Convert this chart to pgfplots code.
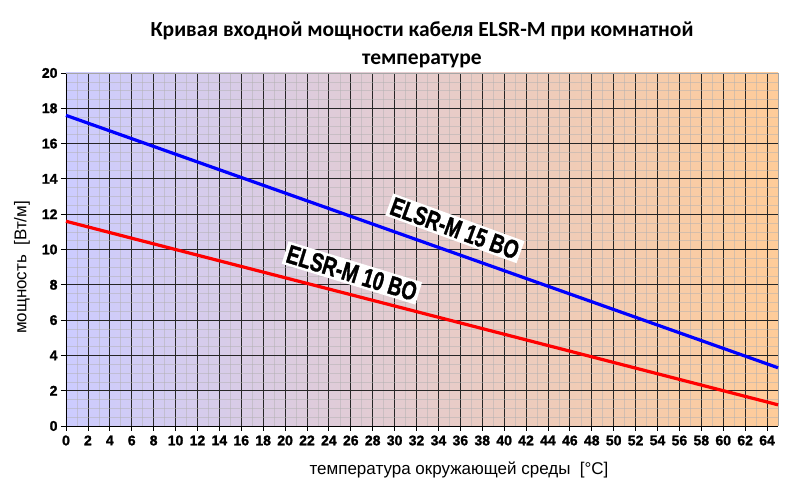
\documentclass[border=0pt]{standalone}
\usepackage{fontspec}
\setmainfont{Liberation Sans}
\newfontfamily\titlefont{Carlito}
\newfontfamily\heavyfont[BoldFeatures={FakeBold=1.5}]{Liberation Sans}
\usepackage{graphicx}
\usepackage{pgfplots}
\pgfplotsset{compat=1.18}
\definecolor{bgL}{RGB}{204,204,255}
\definecolor{bgR}{RGB}{255,204,153}
\definecolor{lblue}{RGB}{0,0,255}
\definecolor{lred}{RGB}{255,0,0}
\begin{document}
\begin{tikzpicture}
\useasboundingbox (-66pt,-71pt) rectangle (734pt,426pt);
\begin{axis}[
  at={(0,0)}, anchor=south west,
  scale only axis, width=712pt, height=353pt,
  xmin=0, xmax=65, ymin=0, ymax=20,
  xtick={0,2,...,64}, ytick={0,2,...,20},
  minor x tick num=1, minor y tick num=3,
  grid=both,
  major grid style={black!85, line width=0.8pt},
  minor grid style={gray!60, opacity=0.5, line width=0.6pt},
  axis background/.style={left color=bgL, right color=bgR},
  axis x line*=bottom, axis y line*=left,
  axis line style={black, line width=0.8pt},
  major tick style={black, line width=0.8pt},
  minor tick length=0pt,
  major tick length=5pt,
  tick align=outside,
  clip=false,
  /pgf/number format/assume math mode=true,
  ticklabel style={font=\heavyfont\bfseries\fontsize{14}{14}\selectfont},
  xticklabel style={yshift=-1pt},
  xlabel={температура окружающей среды~~[\textdegree C]},
  ylabel={мощность~~[Вт/м]},
  xlabel style={font=\fontsize{17}{17}\selectfont, at={(axis description cs:0.552,-0.125)}, anchor=center},
  ylabel style={font=\fontsize{17}{17}\selectfont, at={(axis description cs:-0.062,0.449)}, anchor=center},
]
\draw[gray!70, line width=0.6pt] (rel axis cs:0,1) -- (rel axis cs:1,1) -- (rel axis cs:1,0);
\addplot[lblue, line width=3.2pt, line join=round] coordinates {
 (0,17.6) (5,16.5) (10,15.4) (15,14.3) (20,13.2) (25,12.1) (30,11.0)
 (35,9.9) (40,8.8) (45,7.7) (50,6.6) (55,5.5) (60,4.4) (65,3.3)};
\addplot[lred, line width=3.2pt, line join=round] coordinates {
 (0,11.6) (5,10.8) (10,10.0) (15,9.2) (20,8.4) (25,7.6) (30,6.8)
 (35,6.0) (40,5.2) (45,4.4) (50,3.6) (55,2.8) (60,2.0) (65,1.2)};
\node[fill=white, rotate=-20, inner sep=2.5pt, font=\heavyfont\bfseries\fontsize{26}{26}\selectfont] at (axis cs:35.5,11.2) {\scalebox{0.74}[1]{ELSR-M 15 BO}};
\node[fill=white, rotate=-17, inner sep=2.5pt, font=\heavyfont\bfseries\fontsize{26}{26}\selectfont] at (axis cs:26.1,8.67) {\scalebox{0.74}[1]{ELSR-M 10 BO}};
\node[anchor=base, font=\titlefont\bfseries\fontsize{21.5}{21.5}\selectfont] at (rel axis cs:0.5,1) [yshift=36pt] {Кривая входной мощности кабеля ELSR-M при комнатной};
\node[anchor=base, font=\titlefont\bfseries\fontsize{21.5}{21.5}\selectfont] at (rel axis cs:0.5,1) [yshift=8pt] {температуре};
\end{axis}
\end{tikzpicture}
\end{document}
